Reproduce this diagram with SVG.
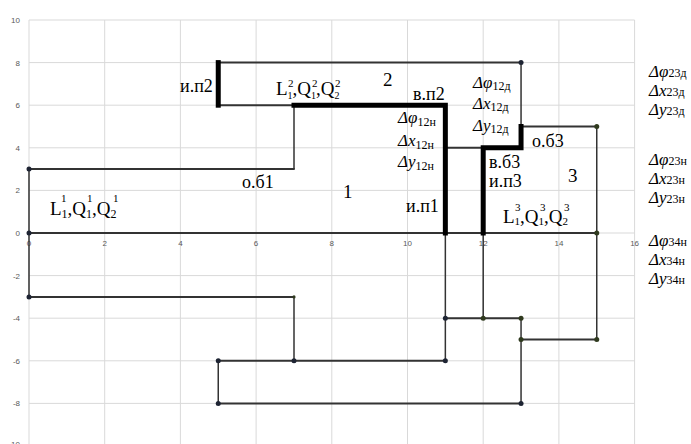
<svg xmlns="http://www.w3.org/2000/svg" width="691" height="444" viewBox="0 0 691 444">
<style>
.grid{stroke:#d9d9d9;stroke-width:1;fill:none}
.tick{font-family:"Liberation Sans",Arial,sans-serif;font-size:8px;fill:#595959}
.ln{stroke:#333;stroke-width:2;fill:none;stroke-linecap:round}
.lt{stroke:#333;stroke-width:1.5;fill:none}
.thick{stroke:#000;stroke-width:5;fill:none;stroke-linejoin:miter;stroke-linecap:square}
.dot{fill:#1e2433}
.dg{fill:#2f3a1e}
.lab{font-family:"Liberation Serif","Times New Roman",serif;font-size:18px;fill:#000}
.big{font-family:"Liberation Serif","Times New Roman",serif;font-size:19px;fill:#000}
.ls{font-family:"Liberation Serif","Times New Roman",serif;font-size:11px;fill:#000}
.d{font-family:"Liberation Serif","Times New Roman",serif;font-size:17px;font-style:italic;fill:#000}
.s{font-style:normal;font-size:12px}
</style>
<rect width="691" height="444" fill="#fff"/>
<g id="grid">
<path class="grid" d="M29 20V444M104.7 20V444M180.4 20V444M256.1 20V444M331.8 20V444M407.5 20V444M483.2 20V444M558.9 20V444M634.6 20V444"/>
<path class="grid" d="M29 20H634.6M29 62.6H634.6M29 105.2H634.6M29 147.8H634.6M29 190.4H634.6M29 233H634.6M29 275.6H634.6M29 318.2H634.6M29 360.8H634.6M29 403.4H634.6"/>
</g>
<g id="ticks" class="tick">
<g text-anchor="end">
<text x="20" y="23">10</text><text x="20" y="65.6">8</text><text x="20" y="108.2">6</text><text x="20" y="150.8">4</text><text x="20" y="193.4">2</text><text x="20" y="236">0</text><text x="20" y="278.6">-2</text><text x="20" y="321.2">-4</text><text x="20" y="363.8">-6</text><text x="20" y="406.4">-8</text><text x="20" y="447">-10</text>
</g>
<g text-anchor="middle">
<text x="29" y="246">0</text><text x="104.7" y="246">2</text><text x="180.4" y="246">4</text><text x="256.1" y="246">6</text><text x="331.8" y="246">8</text><text x="407.5" y="246">10</text><text x="483.2" y="246">12</text><text x="558.9" y="246">14</text><text x="634.6" y="246">16</text>
</g>
</g>
<g id="connectors">
<path class="ln" d="M29 169.1H294M218.25 62.6H521.05M218.25 105.2H294M29 233H596.75M29 296.9H294M218.25 360.8H445.35M218.25 403.4H521.05M445.35 318.2H521.05M521.05 339.5H596.75M521.05 126.5H596.75M445.35 147.8H483.2"/>
<path class="lt" d="M29 169.1V296.9M294 169.1V105.2M521.05 62.6V126.5M596.75 126.5V339.5M294 296.9V360.8M218.25 360.8V403.4M521.05 403.4V318.2M445.35 233V360.8M483.2 233V318.2"/>
<path class="thick" d="M294 105.2H445.35V233"/>
<path class="thick" d="M218.25 62.6V105.2"/>
<path class="thick" d="M483.2 233V147.8H521.05V126.5"/>
</g>
<g id="dots">
<circle class="dot" cx="29" cy="169.1" r="2.5"/>
<circle class="dot" cx="29" cy="233" r="2.5"/>
<circle class="dot" cx="521.05" cy="62.6" r="2.5"/>
<circle class="dg" cx="596.75" cy="126.5" r="2.5"/>
<circle class="dg" cx="596.75" cy="233" r="2.5"/>
<circle class="dot" cx="29" cy="296.9" r="2.5"/>
<circle class="dg" cx="294" cy="296.9" r="1.6"/>
<circle class="dot" cx="294" cy="360.8" r="2.5"/>
<circle class="dot" cx="218.25" cy="360.8" r="2.5"/>
<circle class="dot" cx="218.25" cy="403.4" r="2.5"/>
<circle class="dot" cx="445.35" cy="318.2" r="2.5"/>
<circle class="dg" cx="483.2" cy="318.2" r="2.5"/>
<circle class="dg" cx="521.05" cy="318.2" r="2.5"/>
<circle class="dg" cx="521.05" cy="339.5" r="2.5"/>
<circle class="dg" cx="596.75" cy="339.5" r="2.5"/>
<circle class="dot" cx="445.35" cy="360.8" r="2.5"/>
<circle class="dot" cx="521.05" cy="403.4" r="2.5"/>
</g>
<g id="region1">
<text class="big" x="343" y="198">1</text>
<text class="lab" x="242" y="188">о.б1</text>
<text class="lab" x="406" y="212">и.п1</text>
<text class="big" y="215"><tspan x="50">L</tspan><tspan font-size="12" dy="3">1</tspan><tspan dy="-3">,Q</tspan><tspan font-size="12" dy="3">1</tspan><tspan dy="-3">,Q</tspan><tspan font-size="12" dy="3">2</tspan></text>
<text class="ls" x="61" y="202">1</text><text class="ls" x="87" y="202">1</text><text class="ls" x="113" y="202">1</text>
</g>
<g id="region2">
<text class="big" x="383" y="86">2</text>
<text class="lab" x="180" y="92">и.п2</text>
<text class="lab" x="413" y="100">в.п2</text>
<text class="big" y="95"><tspan x="276">L</tspan><tspan font-size="10" dy="4">1</tspan><tspan dy="-4">,Q</tspan><tspan font-size="10" dy="4">1</tspan><tspan dy="-4">,Q</tspan><tspan font-size="10" dy="4">2</tspan></text>
<text class="ls" font-size="9" x="288" y="87">2</text><text class="ls" font-size="9" x="312" y="87">2</text><text class="ls" font-size="9" x="335" y="87">2</text>
</g>
<g id="region3">
<text class="big" x="568" y="182">3</text>
<text class="lab" x="532" y="147">о.б3</text>
<text class="lab" font-size="17" x="489" y="168">в.б3</text>
<text class="lab" font-size="17" x="489" y="187">и.п3</text>
<text class="big" y="223"><tspan x="503">L</tspan><tspan font-size="11" dy="2">1</tspan><tspan dy="-2">,Q</tspan><tspan font-size="11" dy="2">1</tspan><tspan dy="-2">,Q</tspan><tspan font-size="11" dy="2">2</tspan></text>
<text class="ls" font-size="10" x="515" y="211">3</text><text class="ls" font-size="10" x="540" y="211">3</text><text class="ls" font-size="10" x="564" y="211">3</text>
</g>
<g id="deltas12">
<text class="d" x="398" y="123">Δφ<tspan class="s" dy="3">12н</tspan></text>
<text class="d" x="398" y="146">Δx<tspan class="s" dy="3">12н</tspan></text>
<text class="d" x="398" y="167">Δy<tspan class="s" dy="3">12н</tspan></text>
<text class="d" x="473" y="88">Δφ<tspan class="s" dy="2">12д</tspan></text>
<text class="d" x="473" y="109">Δx<tspan class="s" dy="2">12д</tspan></text>
<text class="d" x="473" y="131">Δy<tspan class="s" dy="2">12д</tspan></text>
</g>
<g id="deltasRight">
<text class="d" x="649" y="77">Δφ<tspan class="s">23д</tspan></text>
<text class="d" x="649" y="96">Δx<tspan class="s">23д</tspan></text>
<text class="d" x="649" y="115">Δy<tspan class="s">23д</tspan></text>
<text class="d" x="649" y="165">Δφ<tspan class="s">23н</tspan></text>
<text class="d" x="649" y="184">Δx<tspan class="s">23н</tspan></text>
<text class="d" x="649" y="203">Δy<tspan class="s">23н</tspan></text>
<text class="d" x="649" y="246">Δφ<tspan class="s">34н</tspan></text>
<text class="d" x="649" y="265">Δx<tspan class="s">34н</tspan></text>
<text class="d" x="649" y="284">Δy<tspan class="s">34н</tspan></text>
</g>
</svg>
